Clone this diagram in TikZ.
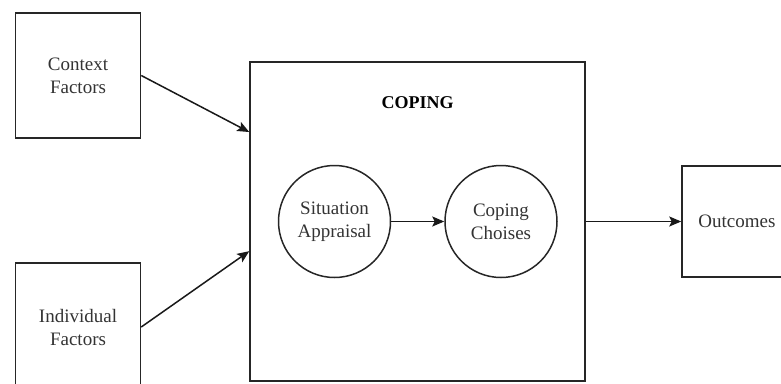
\documentclass[tikz,border=0pt]{standalone}
\usepackage{fontspec}
\setmainfont{Liberation Serif}
\usetikzlibrary{arrows.meta,positioning}
\tikzset{
  blk/.style={draw=black!85,rectangle,line width=1.5pt,align=center,inner sep=0pt,text=black!80,font=\fontsize{19}{23}\selectfont},
  circblk/.style={draw=black!85,circle,line width=1.5pt,minimum size=112pt,inner sep=0pt,align=center,text=black!80,font=\fontsize{19}{23}\selectfont},
  lbl/.style={font=\fontsize{18}{22}\selectfont\bfseries,align=center},
  arr/.style={-{Stealth[length=12pt,width=10pt,inset=2.5pt]},line width=1.5pt,draw=black!90}
}

\begin{document}
\begin{tikzpicture}[x=1pt,y=-1pt]
  \useasboundingbox (0,0) rectangle (781,383);
  \clip (0,0) rectangle (781,383);

  \node[blk, minimum width=125pt, minimum height=125pt] (ctx) at (78,75.5) {Context\\Factors};
  \node[blk, minimum width=125pt, minimum height=128pt] (ind) at (78,327) {Individual\\Factors};
  \node[blk, minimum width=335pt, minimum height=319pt] (coping) at (417.5,221.5) {};
  \node[lbl] (title) at (417.5,103) {COPING};
  \node[circblk] (appr) at (334.5,221.5) {Situation\\Appraisal};
  \node[circblk] (choice) at (501,221.5) {Coping\\Choises};
  \node[blk, minimum width=110pt, minimum height=111pt] (out) at (737,221.5) {Outcomes};

  \draw[arr] (ctx.east)--(coping.152.4);
  \draw[arr] (ind.east)--(coping.190.3);
  \draw[arr] (appr)--(choice);
  \draw[arr] (coping.east)--(out.west);
\end{tikzpicture}
\end{document}
